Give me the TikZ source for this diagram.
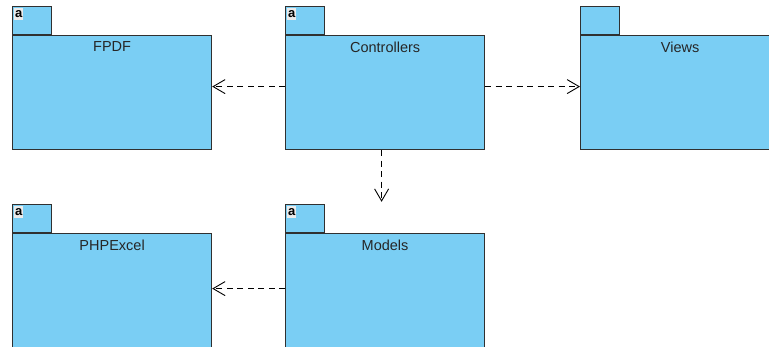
\documentclass[tikz,border=0pt]{standalone}
\usepackage{fontspec}
\setmainfont{Liberation Sans}
\usetikzlibrary{arrows.meta}
\definecolor{paquete}{HTML}{7ACEF4}
\definecolor{borde}{HTML}{303030}
\tikzset{
  cuerpo/.style={draw=borde, fill=paquete, line width=1.2pt, minimum width=199pt, minimum height=114pt, inner sep=0pt, anchor=north west},
  pestana/.style={draw=borde, fill=paquete, line width=1.2pt, minimum width=39pt, minimum height=28pt, inner sep=0pt, anchor=south west},
  icono/.style={fill=black!8, inner sep=0pt, minimum width=9pt, minimum height=12pt, font=\bfseries\fontsize{13}{13}\selectfont, anchor=north west},
  titulo/.style={font=\fontsize{14.5}{15}\selectfont, text=black!85},
  dep/.style={line width=0.9pt, dash pattern=on 6pt off 4.5pt, -{Straight Barb[length=12pt,width=14pt,line width=0.9pt]}}
}
\begin{document}
\begin{tikzpicture}[x=1pt,y=-1pt]
                \path[use as bounding box, clip] (0,0) rectangle (769,347);

                % Fila de arriba
                \node[cuerpo] (fpdf) at (12,35) {};
                \node[pestana] (fpdf-tab) at (12,35) {};
                \node[icono] (fpdf-a) at ([xshift=2pt,yshift=-2pt]fpdf-tab.north west) {a};
                \node[titulo] (fpdf-t) at ([yshift=-12pt]fpdf.north) {FPDF};

                \node[cuerpo] (ctrl) at (285,35) {};
                \node[pestana] (ctrl-tab) at (285,35) {};
                \node[icono] (ctrl-a) at ([xshift=2pt,yshift=-2pt]ctrl-tab.north west) {a};
                \node[titulo] (ctrl-t) at ([yshift=-12pt]ctrl.north) {Controllers};

                \node[cuerpo] (views) at (580,35) {};
                \node[pestana] (views-tab) at (580,35) {};
                \node[titulo] (views-t) at ([yshift=-12pt]views.north) {Views};

                % Fila de abajo
                \node[cuerpo, minimum height=120pt] (excel) at (12,233) {};
                \node[pestana] (excel-tab) at (12,233) {};
                \node[icono] (excel-a) at ([xshift=2pt,yshift=-2pt]excel-tab.north west) {a};
                \node[titulo] (excel-t) at ([yshift=-12pt]excel.north) {PHPExcel};

                \node[cuerpo, minimum height=120pt] (mod) at (285,233) {};
                \node[pestana] (mod-tab) at (285,233) {};
                \node[icono] (mod-a) at ([xshift=2pt,yshift=-2pt]mod-tab.north west) {a};
                \node[titulo] (mod-t) at ([yshift=-12pt]mod.north) {Models};

                % Dependencias
                \draw[dep] ([yshift=6pt]ctrl.west) -- ([yshift=6pt]fpdf.east);
                \draw[dep] ([yshift=6pt]ctrl.east) -- ([yshift=6pt]views.west);
                \draw[dep, shorten >=2pt] ([xshift=-3.5pt]ctrl.south) -- ([xshift=-3.5pt]ctrl.south |- mod-tab.north);
                \draw[dep] ([yshift=5pt]mod.west) -- ([yshift=5pt]excel.east);
\end{tikzpicture}
\end{document}
